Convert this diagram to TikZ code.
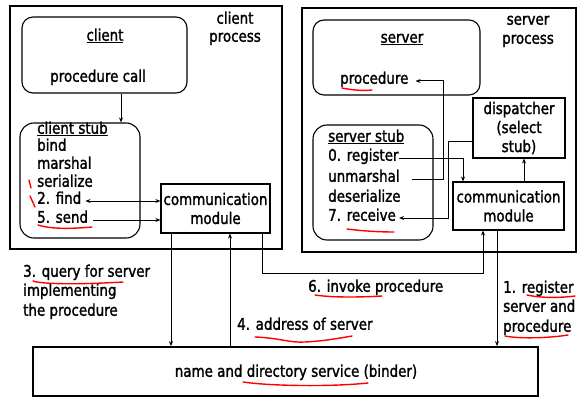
\documentclass[tikz,border=0pt]{standalone}
\usepackage{fontspec}
\setmainfont{DejaVu Sans}[FakeStretch=0.84,FakeBold=1.6]
\usetikzlibrary{arrows.meta}
\begin{document}
\begin{tikzpicture}[x=1pt,y=-1pt,
  font=\fontsize{16}{19}\selectfont,
  proc/.style={draw, line width=2.4pt, inner sep=0, minimum width=#1},
  rbox/.style={draw, line width=1.1pt, rounded corners=11pt, inner sep=0},
  sbox/.style={draw, line width=1.1pt, inner sep=0, align=center},
  t/.style={inner sep=0, anchor=west, text height=0.75em, text depth=0.2em},
  tc/.style={inner sep=0, text height=0.75em, text depth=0.2em},
  arr/.style={line width=1pt, -{Stealth[length=5pt,width=4pt]}},
  arrtwo/.style={line width=1pt, {Stealth[length=5pt,width=4pt]}-{Stealth[length=5pt,width=4pt]}},
  redmark/.style={draw=red, line width=1.4pt, line cap=round}
]
\useasboundingbox (0,0) rectangle (585,401);

% process frames
\node[proc=272pt, minimum height=243pt] (cproc) at (146,127.5) {};
\node[proc=274pt, minimum height=244pt] (sproc) at (439,130) {};
\node[tc] (cproclab1) at (235,21) {client};
\node[tc] (cproclab2) at (235,39) {process};
\node[tc] (sproclab1) at (528,22) {server};
\node[tc] (sproclab2) at (528,41) {process};

% client side
\node[rbox, minimum width=165pt, minimum height=76pt] (client) at (104.5,55) {};
\node[tc] (clientlab) at (105,38) {\underline{client}};
\node[tc] (pcall) at (98,79) {procedure call};
\node[rbox, rounded corners=14pt, minimum width=120pt, minimum height=115pt] (cstub) at (80,180.5) {};
\node[t] (cstublab) at (37,131) {\underline{client stub}};
\node[t] (bind) at (37,148) {bind};
\node[t] (marsh) at (37,166) {marshal};
\node[t] (ser) at (37,184) {serialize};
\node[t] (find) at (37,201) {2. find};
\node[t] (send) at (37,220) {5. send};
\node[sbox, minimum width=109pt, minimum height=49pt] (ccomm) at (215.5,208.5) {communication\\module};

% server side
\node[rbox, minimum width=167pt, minimum height=75pt] (server) at (396.5,57.5) {};
\node[tc] (serverlab) at (402,40) {\underline{server}};
\node[t] (pname) at (340,81) {procedure};
\node[rbox, rounded corners=14pt, minimum width=120pt, minimum height=115pt] (sstub) at (373,182.5) {};
\node[t] (sstublab) at (328,139) {\underline{server stub}};
\node[t] (reg) at (328,158) {0. register};
\node[t] (unm) at (328,179) {unmarshal};
\node[t] (deser) at (328,199) {deserialize};
\node[t] (recv) at (328,218) {7. receive};
\node[sbox, minimum width=92pt, minimum height=60pt] (disp) at (519,128) {dispatcher\\(select\\stub)};
\node[sbox, minimum width=111pt, minimum height=48pt] (scomm) at (508.5,206) {communication\\module};

% binder
\node[draw, line width=1.8pt, minimum width=505pt, minimum height=49pt, inner sep=0] (binder) at (285.5,371.5) {};
\node[tc] (binderlab) at (296,374) {name and directory service (binder)};

% labels
\node[t] (q1) at (23,274) {3. query for server};
\node[t] (q2) at (23,293) {implementing};
\node[t] (q3) at (23,313) {the procedure};
\node[t] (addr) at (237,327) {4. address of server};
\node[t] (inv) at (308,289) {6. invoke procedure};
\node[t] (r1) at (503,290) {1. register};
\node[t] (r2) at (503,309) {server and};
\node[t] (r3) at (503,329) {procedure};

% connectors
\draw[arr] (client.south -| 121,0) -- (cstub.north -| 121,0);
\draw[arrtwo, shorten <=4pt] (find.east) -- (find.east -| ccomm.west);
\draw[arr, shorten <=5pt] (send.east) -- (send.east -| ccomm.west);
\draw[arr] (ccomm.south -| 171,0) -- (binder.north -| 171,0);
\draw[arr] (binder.north -| 230,0) -- (ccomm.south -| 230,0);
\coordinate (invturn) at (483,273);
\draw[arr] (ccomm.south -| 262,0) |- (invturn) -- (scomm.south -| invturn);
\draw[arr] (scomm.south -| 497,0) -- (binder.north -| 497,0);
\draw[arr] (scomm.north -| 524,0) -- (disp.south -| 524,0);
\draw[arr] (reg.east) -| (scomm.north -| 463,0);
\draw[arr, shorten >=3pt] (disp.west |- 0,141) -| (recv.east -| 448,0) -- (recv.east);
\draw[arr, shorten <=12pt, shorten >=7pt] (unm.east) -| (pname.east -| 443,0) -- (pname.east);

% red hand marks
\draw[redmark] (29,180) -- (31,188);
\draw[redmark] (30,196) -- (35,207);
\draw[redmark] (38,225) .. controls (50,229) and (70,229) .. (92,227);
\draw[redmark] (342,88) .. controls (352,90) and (362,91) .. (372,90);
\draw[redmark] (347,229) .. controls (362,231) and (380,232) .. (394,232);
\draw[redmark] (33,281) .. controls (45,285) and (90,284) .. (123,282);
\draw[redmark] (255,337) .. controls (280,338) and (290,343) .. (305,342) .. controls (325,341) and (340,338) .. (352,336);
\draw[redmark] (243,382) .. controls (270,386) and (330,387) .. (368,383);
\draw[redmark] (315,295) .. controls (335,298) and (365,297) .. (382,296);
\draw[redmark] (527,295) .. controls (540,298) and (560,298) .. (575,296);
\draw[redmark] (505,336) .. controls (520,339) and (550,338) .. (568,335);
\end{tikzpicture}
\end{document}
